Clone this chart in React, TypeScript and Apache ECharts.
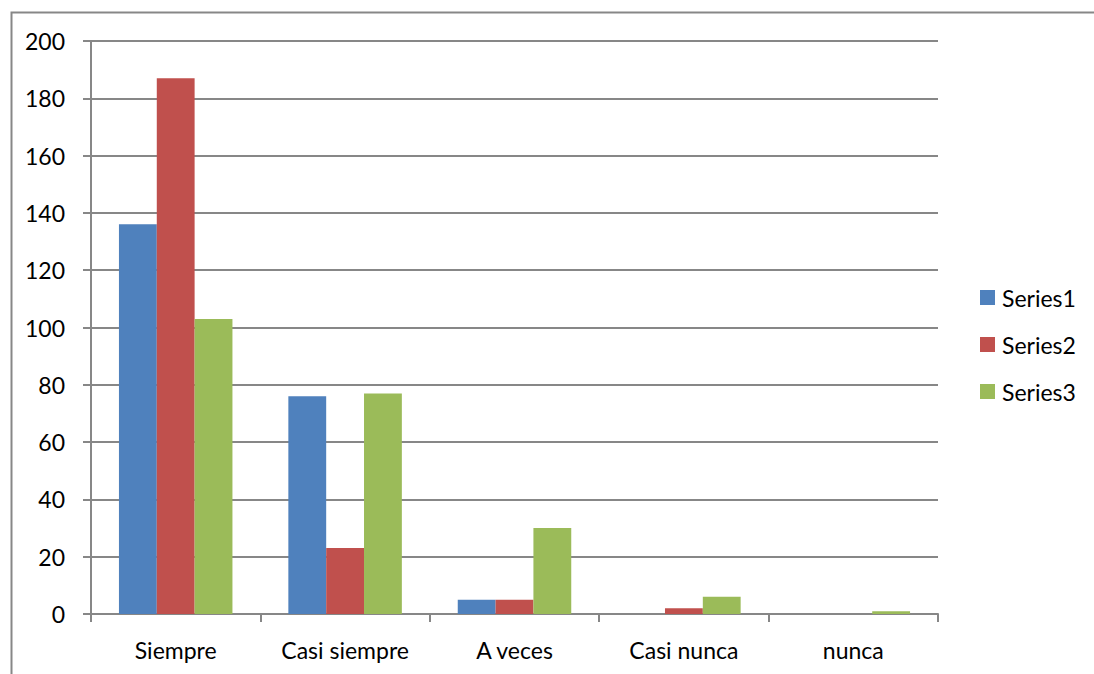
import React, { useEffect, useRef } from "react";
import * as echarts from "echarts";

const categories = ["Siempre", "Casi siempre", "A veces", "Casi nunca", "nunca"];
const series1 = [136, 76, 5, 0, 0];
const series2 = [187, 23, 5, 2, 0];
const series3 = [103, 77, 30, 6, 1];
const seriesNames = ["Series1", "Series2", "Series3"];
const seriesColors = ["#4F81BD", "#C0504D", "#9BBB59"];

const FONT = "Lato";
const FONT_SIZE = 23;
const GRID_COLOR = "#878787";

export default function App() {
  const ref = useRef<HTMLDivElement>(null);
  useEffect(() => {
    if (!ref.current) return;
    const chart = echarts.init(ref.current, undefined, { renderer: "svg" });
    const data = [series1, series2, series3];
    chart.setOption({
      animation: false,
      backgroundColor: "#ffffff",
      textStyle: { fontFamily: FONT },
      grid: { left: 91, top: 41, right: 156, bottom: 60, containLabel: false },
      legend: {
        orient: "vertical",
        left: 975,
        top: 281,
        itemWidth: 15,
        itemHeight: 15,
        itemGap: 24,
        icon: "rect",
        textStyle: { fontFamily: FONT, fontSize: FONT_SIZE, color: "#000", padding: [0, 0, 0, 2] },
        data: seriesNames,
      },
      xAxis: {
        type: "category",
        data: categories,
        axisLine: { show: true, lineStyle: { color: GRID_COLOR, width: 2 } },
        axisTick: { show: true, length: 8, lineStyle: { color: GRID_COLOR, width: 2 } },
        axisLabel: { fontFamily: FONT, fontSize: FONT_SIZE, color: "#000", margin: 24 },
        splitLine: { show: false },
      },
      yAxis: {
        type: "value",
        min: 0,
        max: 200,
        interval: 20,
        axisLine: { show: true, lineStyle: { color: GRID_COLOR, width: 2 } },
        axisTick: { show: true, length: 8, lineStyle: { color: GRID_COLOR, width: 2 } },
        axisLabel: { fontFamily: FONT, fontSize: FONT_SIZE, color: "#000", margin: 26 },
        splitLine: { show: true, lineStyle: { color: GRID_COLOR, width: 2 } },
      },
      series: seriesNames.map((name, i) => ({
        name,
        type: "bar",
        data: data[i],
        barGap: "0%",
        barCategoryGap: "33%",
        itemStyle: { color: seriesColors[i] },
      })),
      graphic: [
        {
          type: "rect",
          left: 9,
          top: 10,
          shape: { x: 0, y: 0, width: 1084, height: 700 },
          style: { fill: "none", stroke: GRID_COLOR, lineWidth: 2 },
          silent: true,
        },
      ],
    });
    return () => chart.dispose();
  }, []);
  return (
    <div
      ref={ref}
      style={{ position: "fixed", left: 0, top: 0, width: 1094, height: 674 }}
    />
  );
}
